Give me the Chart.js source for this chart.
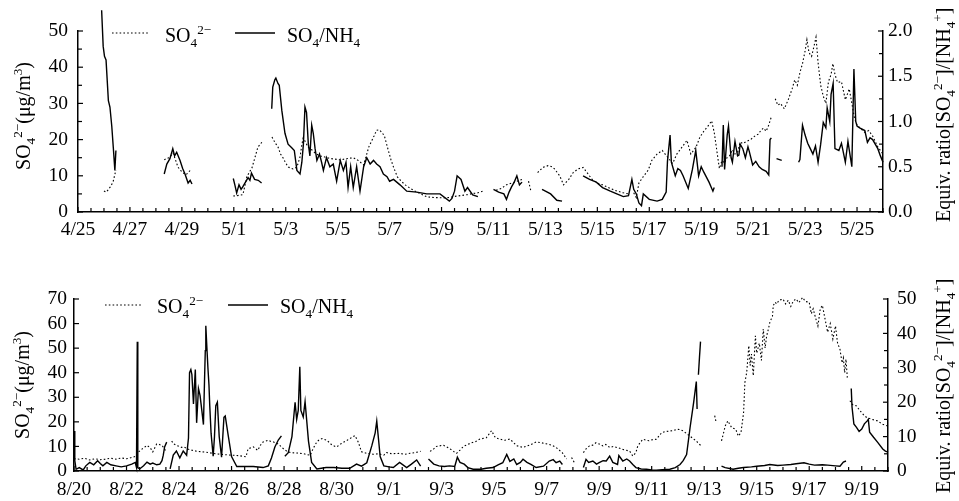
<!DOCTYPE html>
<html>
<head>
<meta charset="utf-8">
<title>SO4 and SO4/NH4 ratio</title>
<script src="https://cdn.jsdelivr.net/npm/chart.js@4.4.1/dist/chart.umd.min.js"></script>
<style>
  html, body { margin: 0; padding: 0; background: #fff; }
  #wrap { position: relative; width: 959px; height: 501px; }
  #wrap canvas { position: absolute; left: 0; }
</style>
</head>
<body>
<div id="wrap">
  <canvas id="springChart" width="959" height="240" style="top:0"></canvas>
  <canvas id="autumnChart" width="959" height="261" style="top:240px"></canvas>
</div>
<script>
// X VALUES ARE DAYS SINCE THE FIRST DATE OF EACH PANEL, null BREAKS THE LINE
var springDateLabels = ['4/25', '4/27', '4/29', '5/1', '5/3', '5/5', '5/7', '5/9', '5/11', '5/13', '5/15', '5/17', '5/19', '5/21', '5/23', '5/25'];
var autumnDateLabels = ['8/20', '8/22', '8/24', '8/26', '8/28', '8/30', '9/1', '9/3', '9/5', '9/7', '9/9', '9/11', '9/13', '9/15', '9/17', '9/19'];

// SPRING: SO4 (ug/m3)
var springSO4 = [
  [1.0, 5.8], [1.08, 5.5], [1.16, 6.1], [1.25, 7.0], [1.35, 8.3], [1.46, 11.6], [1.5, null],
  [3.32, 14.4], [3.42, 14.8], [3.5, 15.0], [3.58, 15.6], [3.66, 16.3], [3.75, 14.5], [3.85, 12.4], [3.95, 11.5], [4.05, 10.8], [4.15, 10.3], [4.24, 10.8], [4.33, 11.6], [4.4, null],
  [5.98, 4.4], [6.1, 4.5], [6.2, 4.6], [6.35, 4.8], [6.45, 8.0], [6.5, 9.7], [6.6, 11.0], [6.7, 12.2], [6.82, 15.2], [6.93, 18.0], [7.0, 18.5], [7.08, 19.3], [7.2, null],
  [7.47, 20.7], [7.6, 19.0], [7.7, 18.0], [7.8, 16.0], [7.9, 14.9], [8.0, 13.5], [8.1, 12.4], [8.28, 11.9], [8.43, 12.4], [8.55, 15.2], [8.62, 18.5], [8.67, 20.4], [8.75, 19.5], [8.85, 18.0], [9.0, 17.2], [9.13, 16.3], [9.3, 15.5], [9.5, 15.2], [9.7, 14.8], [9.9, 14.6], [10.1, 14.4], [10.4, 14.8], [10.6, 15.0], [10.8, 14.2], [11.0, 13.0], [11.1, 15.5], [11.2, 18.0], [11.3, 19.5], [11.4, 21.0], [11.5, 22.6], [11.6, 22.7], [11.7, 22.0], [11.8, 21.0], [11.95, 17.0], [12.05, 14.5], [12.15, 12.4], [12.3, 9.7], [12.45, 8.5], [12.6, 7.5], [12.8, 6.5], [12.97, 5.8], [13.2, 5.0], [13.43, 4.2], [13.7, 4.0], [14.07, 3.9], [14.3, 4.0], [14.5, 4.3], [14.8, 4.6], [15.0, 4.8], [15.2, 5.1], [15.4, 5.3], [15.6, 5.8], [15.7, null],
  [16.1, 6.0], [16.3, 6.5], [16.5, 7.5], [16.7, 8.0], [16.9, 8.5], [17.1, 9.0], [17.2, null],
  [17.35, 8.5], [17.45, 5.5], [17.55, null],
  [17.7, 10.9], [17.9, 12.3], [18.1, 12.8], [18.25, 12.5], [18.35, 11.9], [18.55, 10.0], [18.7, 7.5], [18.9, 9.0], [19.07, 10.9], [19.26, 11.9], [19.45, 12.3], [19.6, 10.9], [19.8, 9.0], [20.0, 8.0], [20.2, 7.5], [20.5, 6.5], [20.75, 5.8], [21.0, 5.3], [21.2, 5.0], [21.3, null],
  [21.4, 5.3], [21.5, 4.0], [21.6, 8.0], [21.77, 9.8], [21.96, 11.6], [22.1, 14.3], [22.3, 16.0], [22.5, 17.0], [22.7, 15.2], [22.9, 13.4], [23.06, 16.0], [23.26, 17.9], [23.45, 19.8], [23.6, 16.0], [23.8, 17.9], [23.95, 20.7], [24.1, 22.3], [24.3, 24.1], [24.4, 25.2], [24.5, 22.0], [24.6, 17.0], [24.7, 12.0], [24.8, 14.2], [24.9, 13.5], [25.0, 15.1], [25.1, 15.6], [25.2, 17.2], [25.3, 16.0], [25.4, 16.5], [25.5, 19.3], [25.6, 18.9], [25.75, 19.5], [25.9, 20.0], [26.0, 20.6], [26.1, 21.2], [26.2, 21.5], [26.3, 22.6], [26.4, 23.2], [26.5, 22.3], [26.6, 24.0], [26.7, 26.3], [26.78, null],
  [26.85, 31.3], [26.95, 29.5], [27.05, 30.0], [27.2, 28.5], [27.35, 31.0], [27.5, 34.0], [27.6, 36.5], [27.7, 35.0], [27.8, 38.5], [27.9, 41.0], [28.0, 44.5], [28.07, 47.6], [28.15, 44.0], [28.25, 43.0], [28.35, 46.0], [28.42, 48.3], [28.5, 41.3], [28.6, 35.0], [28.7, 32.0], [28.8, 30.0], [28.9, 36.0], [29.0, 38.0], [29.07, 41.0], [29.15, 38.0], [29.25, 35.8], [29.4, 36.0], [29.55, 31.0], [29.7, 34.0], [29.8, 30.0], [29.9, 26.0], [30.0, 24.0], [30.15, 23.0], [30.3, 22.0], [30.45, 22.5], [30.6, 21.0], [30.8, 18.0], [31.0, 16.0]
];

// SPRING: EQUIV. RATIO SO4/NH4
var springRatio = [
  [0.91, 2.23], [0.97, 1.83], [1.02, 1.72], [1.08, 1.68], [1.17, 1.23], [1.23, 1.16], [1.3, 0.95], [1.36, 0.71], [1.42, 0.46], [1.46, 0.68], [1.5, null],
  [3.32, 0.42], [3.42, 0.53], [3.54, 0.59], [3.65, 0.70], [3.72, 0.62], [3.8, 0.66], [3.93, 0.57], [4.03, 0.48], [4.12, 0.42], [4.24, 0.32], [4.32, 0.35], [4.39, 0.31], [4.45, null],
  [5.98, 0.37], [6.04, 0.30], [6.11, 0.21], [6.2, 0.30], [6.28, 0.25], [6.35, 0.28], [6.45, 0.33], [6.55, 0.38], [6.62, 0.35], [6.68, 0.43], [6.8, 0.36], [6.94, 0.35], [7.07, 0.32], [7.2, null],
  [7.46, 1.14], [7.5, 1.38], [7.58, 1.46], [7.62, 1.48], [7.7, 1.42], [7.75, 1.40], [7.85, 1.12], [7.97, 0.87], [8.09, 0.75], [8.23, 0.71], [8.33, 0.68], [8.43, 0.46], [8.55, 0.42], [8.62, 0.55], [8.68, 0.75], [8.74, 1.16], [8.8, 1.10], [8.87, 0.75], [8.93, 0.62], [9.0, 0.96], [9.06, 0.87], [9.13, 0.70], [9.2, 0.57], [9.3, 0.64], [9.38, 0.55], [9.45, 0.46], [9.57, 0.60], [9.7, 0.50], [9.83, 0.53], [9.96, 0.34], [10.1, 0.57], [10.22, 0.46], [10.32, 0.55], [10.4, 0.27], [10.5, 0.50], [10.6, 0.27], [10.73, 0.50], [10.86, 0.23], [11.0, 0.50], [11.12, 0.60], [11.25, 0.53], [11.38, 0.57], [11.5, 0.53], [11.63, 0.50], [11.76, 0.42], [11.9, 0.39], [12.0, 0.34], [12.15, 0.36], [12.4, 0.30], [12.66, 0.23], [13.04, 0.22], [13.43, 0.20], [13.94, 0.20], [14.3, 0.12], [14.4, 0.15], [14.5, 0.23], [14.6, 0.40], [14.75, 0.36], [14.9, 0.23], [15.0, 0.27], [15.2, 0.19], [15.4, 0.17], [15.5, null],
  [16.0, 0.25], [16.2, 0.22], [16.4, 0.20], [16.5, 0.14], [16.6, 0.22], [16.7, 0.28], [16.8, 0.33], [16.9, 0.40], [17.0, 0.30], [17.1, 0.33], [17.2, null],
  [17.87, 0.25], [18.0, 0.23], [18.2, 0.20], [18.44, 0.13], [18.64, 0.12], [18.7, null],
  [19.45, 0.40], [19.7, 0.36], [19.96, 0.33], [20.2, 0.27], [20.5, 0.23], [20.75, 0.20], [21.0, 0.17], [21.2, 0.18], [21.33, 0.36], [21.4, 0.25], [21.5, 0.20], [21.6, 0.10], [21.7, 0.07], [21.77, 0.20], [22.0, 0.14], [22.3, 0.12], [22.5, 0.14], [22.65, 0.22], [22.7, 0.56], [22.8, 0.85], [22.85, 0.55], [23.0, 0.40], [23.1, 0.48], [23.2, 0.46], [23.3, 0.40], [23.5, 0.26], [23.66, 0.47], [23.79, 0.68], [23.9, 0.40], [24.0, 0.50], [24.1, 0.44], [24.3, 0.33], [24.45, 0.23], [24.5, 0.27], [24.6, null],
  [24.8, 0.50], [24.85, 0.96], [24.9, 0.47], [25.0, 0.85], [25.05, 0.95], [25.15, 0.60], [25.2, 0.55], [25.3, 0.78], [25.4, 0.62], [25.45, 0.63], [25.5, 0.75], [25.6, 0.70], [25.7, 0.60], [25.8, 0.72], [25.85, 0.67], [25.98, 0.52], [26.1, 0.56], [26.23, 0.50], [26.35, 0.47], [26.5, 0.45], [26.6, 0.41], [26.65, 0.80], [26.7, 0.82], [26.8, null],
  [26.9, 0.59], [27.1, 0.57], [27.2, null],
  [27.75, 0.55], [27.8, 0.58], [27.9, 0.96], [28.0, 0.85], [28.1, 0.76], [28.2, 0.70], [28.3, 0.64], [28.4, 0.73], [28.5, 0.55], [28.6, 0.75], [28.7, 0.99], [28.8, 0.93], [28.85, 1.15], [28.95, 1.0], [29.0, 1.30], [29.08, 1.42], [29.15, 0.70], [29.3, 0.68], [29.4, 0.76], [29.55, 0.55], [29.65, 0.78], [29.8, 0.50], [29.88, 1.58], [29.95, 1.0], [30.0, 0.95], [30.1, 0.93], [30.3, 0.90], [30.4, 0.77], [30.5, 0.82], [30.6, 0.80], [30.8, 0.70], [30.9, 0.62], [31.0, 0.55]
];

// AUTUMN: SO4 (ug/m3)
var autumnSO4 = [
  [0.0, 5.0], [0.2, 4.8], [0.4, 5.2], [0.6, 4.5], [0.8, 5.0], [1.0, 4.6], [1.2, 4.8], [1.4, 5.2], [1.6, 4.8], [1.8, 5.3], [2.0, 5.0], [2.2, 5.5], [2.35, 6.0], [2.45, 7.7], [2.6, 9.0], [2.78, 10.4], [2.9, 9.5], [3.0, 7.8], [3.15, 11.0], [3.25, 10.8], [3.35, 10.4], [3.45, 9.0], [3.5, 8.0], [3.6, null],
  [3.72, 12.2], [3.8, 11.0], [3.9, 10.4], [4.0, 10.0], [4.1, 9.6], [4.2, 9.8], [4.3, 9.0], [4.48, 8.5], [4.7, 8.0], [5.0, 7.7], [5.4, 7.0], [5.8, 6.6], [6.07, 6.4], [6.3, 6.2], [6.55, 5.8], [6.63, 9.0], [6.75, 9.5], [6.83, 9.8], [7.0, 8.4], [7.1, 10.5], [7.2, 11.8], [7.4, 12.5], [7.5, 12.0], [7.6, 11.8], [7.78, 11.0], [7.9, 9.8], [8.0, 8.8], [8.1, 8.1], [8.25, 7.5], [8.5, 7.3], [8.75, 7.0], [9.0, 6.4], [9.1, 9.0], [9.25, 11.9], [9.35, 12.8], [9.45, 13.2], [9.63, 12.5], [9.83, 10.5], [10.0, 9.8], [10.2, 11.3], [10.4, 12.5], [10.6, 13.8], [10.7, 14.4], [10.83, 11.7], [10.95, 7.8], [11.15, 7.2], [11.4, 6.8], [11.6, 7.0], [11.8, 6.5], [11.9, 7.5], [12.1, 7.0], [12.4, 7.2], [12.6, 6.8], [12.8, 7.2], [13.0, 7.5], [13.2, 8.0], [13.35, null],
  [13.56, 8.0], [13.7, 9.0], [13.8, 10.0], [14.07, 10.5], [14.3, 9.2], [14.45, 8.0], [14.57, 7.2], [14.7, 8.5], [14.83, 10.0], [15.1, 11.3], [15.3, 12.0], [15.46, 13.0], [15.7, 13.5], [15.9, 16.4], [16.05, 13.5], [16.22, 13.0], [16.4, 12.5], [16.6, 13.0], [16.86, 10.3], [17.1, 9.6], [17.35, 10.5], [17.6, 11.8], [17.8, 11.5], [17.98, 11.1], [18.2, 10.5], [18.36, 9.6], [18.6, 7.4], [18.76, 4.9], [18.85, null],
  [18.95, 5.5], [19.05, 3.5], [19.1, null],
  [19.4, 7.5], [19.5, 9.0], [19.63, 10.2], [19.75, 10.5], [19.88, 11.5], [20.0, 11.0], [20.14, 10.2], [20.25, 10.8], [20.4, 9.6], [20.55, 10.0], [20.7, 9.5], [20.9, 8.8], [21.16, 8.1], [21.28, 6.1], [21.4, 7.5], [21.47, 10.2], [21.66, 12.9], [21.9, 12.3], [22.05, 12.8], [22.18, 12.9], [22.38, 15.6], [22.5, 16.0], [22.7, 16.3], [22.85, 16.5], [22.95, 17.0], [23.1, 16.8], [23.2, 16.3], [23.33, 15.2], [23.46, 14.2], [23.6, 13.0], [23.7, 12.2], [23.8, 11.0], [23.9, 10.2], [24.0, null],
  [24.4, 22.5], [24.45, 20.0], [24.5, null],
  [24.66, 12.3], [24.75, 16.0], [24.8, 18.3], [24.9, 20.4], [25.0, 18.5], [25.05, 17.6], [25.2, 17.0], [25.3, 14.2], [25.4, 15.6], [25.5, 23.8], [25.55, 36.0], [25.62, 40.2], [25.7, 51.0], [25.75, 42.9], [25.8, 47.6], [25.87, 38.8], [25.95, 55.0], [26.0, 48.0], [26.1, 52.0], [26.18, 45.0], [26.25, 57.8], [26.32, 50.0], [26.38, 55.0], [26.45, 58.0], [26.5, 60.5], [26.6, 63.0], [26.63, 67.3], [26.7, 68.7], [26.76, 68.0], [26.85, 69.5], [27.0, 70.0], [27.1, 68.0], [27.2, 69.5], [27.3, 67.0], [27.4, 69.3], [27.5, 70.0], [27.6, 68.5], [27.75, 70.6], [27.85, 69.0], [28.0, 68.7], [28.08, 64.0], [28.15, 66.0], [28.25, 62.0], [28.33, 59.0], [28.42, 66.0], [28.5, 67.4], [28.6, 62.0], [28.7, 56.5], [28.8, 60.0], [28.9, 53.7], [29.0, 59.0], [29.08, 52.0], [29.17, 49.6], [29.25, 44.0], [29.3, 46.0], [29.35, 40.0], [29.4, 45.5], [29.45, 38.0], [29.5, null],
  [29.55, 28.6], [29.65, 27.0], [29.8, 26.5], [29.9, 25.0], [30.0, 23.7], [30.1, 22.5], [30.2, 21.7], [30.4, 21.0], [30.6, 20.4], [30.8, 19.0], [31.0, 18.3]
];

// AUTUMN: EQUIV. RATIO SO4/NH4
var autumnRatio = [
  [0.0, 11.6], [0.03, 3.0], [0.08, 0.5], [0.2, 1.0], [0.35, 0.3], [0.45, 1.5], [0.6, 2.5], [0.75, 1.8], [0.9, 3.0], [1.0, 2.2], [1.1, 1.5], [1.25, 2.5], [1.4, 1.8], [1.6, 1.5], [1.8, 1.2], [2.0, 1.5], [2.2, 2.0], [2.33, 2.5], [2.38, 1.0], [2.41, 37.6], [2.43, 1.0], [2.5, 0.6], [2.65, 1.5], [2.78, 2.6], [2.9, 2.0], [3.0, 2.3], [3.15, 1.8], [3.27, 2.0], [3.35, 3.0], [3.4, 4.6], [3.45, 7.0], [3.53, 8.4], [3.6, null],
  [3.66, 0.6], [3.78, 4.6], [3.9, 5.8], [4.03, 3.8], [4.16, 5.8], [4.29, 4.6], [4.36, 9.6], [4.4, 28.6], [4.45, 29.5], [4.49, 28.0], [4.55, 19.5], [4.62, 29.5], [4.67, 14.0], [4.74, 24.0], [4.8, 22.0], [4.87, 17.5], [4.93, 13.5], [4.97, 26.0], [5.0, 35.0], [5.02, 42.2], [5.06, 36.0], [5.1, 30.0], [5.14, 25.0], [5.17, 19.0], [5.22, 11.0], [5.3, 4.3], [5.35, 10.0], [5.4, 19.0], [5.46, 20.0], [5.53, 10.0], [5.62, 4.0], [5.71, 15.6], [5.76, 16.0], [5.82, 13.0], [5.88, 10.0], [6.0, 4.2], [6.2, 1.3], [6.45, 1.3], [6.83, 1.3], [7.2, 1.0], [7.4, 1.5], [7.52, 3.8], [7.65, 7.0], [7.78, 9.0], [7.9, 10.2], [7.96, null],
  [8.03, 4.3], [8.16, 5.3], [8.3, 10.0], [8.42, 20.0], [8.48, 15.0], [8.54, 17.6], [8.6, 30.3], [8.64, 17.6], [8.73, 15.7], [8.8, 20.2], [8.93, 8.7], [9.05, 2.5], [9.25, 0.6], [9.6, 1.0], [9.9, 1.0], [10.2, 0.8], [10.5, 0.8], [10.76, 2.0], [10.95, 1.4], [11.15, 2.4], [11.34, 7.3], [11.47, 11.1], [11.53, 14.5], [11.6, 9.0], [11.66, 4.2], [11.8, 1.5], [12.0, 1.2], [12.16, 1.0], [12.4, 2.5], [12.67, 1.0], [12.85, 2.0], [13.05, 3.2], [13.2, 1.4], [13.35, null],
  [13.5, 3.5], [13.7, 2.0], [13.9, 1.5], [14.1, 1.3], [14.3, 1.5], [14.5, 1.3], [14.6, 4.0], [14.7, 2.5], [14.86, 2.0], [15.0, 1.0], [15.2, 0.5], [15.5, 0.5], [15.7, 0.8], [15.96, 1.0], [16.15, 1.8], [16.33, 2.4], [16.48, 4.8], [16.6, 2.8], [16.75, 3.5], [16.86, 1.9], [17.0, 2.5], [17.1, 3.4], [17.25, 2.5], [17.4, 1.9], [17.6, 1.0], [17.88, 1.4], [18.1, 2.9], [18.25, 3.3], [18.36, 2.4], [18.5, 2.9], [18.6, 1.9], [18.7, null],
  [19.4, 1.0], [19.5, 3.4], [19.6, 2.5], [19.76, 2.9], [19.9, 2.0], [20.0, 2.4], [20.15, 3.0], [20.27, 2.9], [20.4, 4.3], [20.52, 2.5], [20.7, 1.9], [20.75, 4.5], [20.9, 2.9], [21.05, 3.5], [21.16, 2.9], [21.28, 1.9], [21.4, 1.0], [21.6, 0.6], [21.8, 0.5], [22.0, 0.3], [22.18, 0.2], [22.4, 0.4], [22.69, 0.5], [22.9, 1.0], [23.08, 1.9], [23.2, 3.0], [23.33, 4.8], [23.46, 12.5], [23.6, 20.0], [23.7, 26.0], [23.73, 18.0], [23.75, null],
  [23.78, 28.0], [23.82, 33.0], [23.86, 37.6], [23.9, null],
  [24.66, 1.4], [24.8, 1.0], [25.1, 0.5], [25.3, 0.8], [25.5, 1.0], [25.8, 1.2], [26.0, 1.4], [26.3, 1.6], [26.5, 1.9], [26.8, 1.6], [27.0, 1.7], [27.3, 1.9], [27.5, 2.1], [27.8, 2.4], [28.0, 2.0], [28.2, 1.7], [28.5, 1.8], [28.7, 1.7], [29.0, 1.5], [29.17, 1.4], [29.3, 2.6], [29.4, 2.9], [29.5, null],
  [29.6, 24.0], [29.63, 18.6], [29.7, 13.7], [29.8, 12.7], [29.9, 11.5], [30.0, 12.2], [30.1, 13.7], [30.2, 14.5], [30.25, 15.0], [30.3, 11.3], [30.45, 9.8], [30.6, 8.4], [30.8, 6.4], [30.9, 5.8], [31.0, 5.5]
];

// TEXT PIECES: [text, 'sub' | 'sup' | undefined]
var so4Text = [['SO'], ['4', 'sub'], ['2\u2212', 'sup']];
var ratioLegendText = [['SO'], ['4', 'sub'], ['/NH'], ['4', 'sub']];
var leftTitleText = [['SO'], ['4', 'sub'], ['2\u2212', 'sup'], ['(\u03bcg/m'], ['3', 'sup'], [')']];
var rightTitleText = [['Equiv. ratio[SO'], ['4', 'sub'], ['2\u2212', 'sup'], [']/[NH'], ['4', 'sub'], ['+', 'sup'], [']']];

var FONT = '"Liberation Serif", "Times New Roman", serif';
Chart.defaults.font.family = FONT;
Chart.defaults.font.size = 19.5;
Chart.defaults.color = '#000';

function toPoints(pairs) {
  return pairs.map(function (p) { return { x: p[0], y: p[1] }; });
}

function isStep(v, every) {
  var q = v / every;
  return Math.abs(q - Math.round(q)) < 1e-6;
}

// RICH TEXT WITH SUB / SUPERSCRIPTS
function drawRich(ctx, segs, x, y, size, align) {
  var parts = segs.map(function (s) {
    var fs = s[1] ? size * 0.66 : size;
    ctx.font = fs + 'px ' + FONT;
    return { t: s[0], k: s[1], fs: fs, w: ctx.measureText(s[0]).width };
  });
  var total = parts.reduce(function (a, p) { return a + p.w; }, 0);
  var cx = align === 'center' ? x - total / 2 : x;
  ctx.textAlign = 'left';
  ctx.textBaseline = 'alphabetic';
  ctx.fillStyle = '#000';
  parts.forEach(function (p) {
    ctx.font = p.fs + 'px ' + FONT;
    var dy = p.k === 'sub' ? size * 0.27 : (p.k === 'sup' ? -size * 0.4 : 0);
    ctx.fillText(p.t, cx, y + dy);
    cx += p.w;
  });
}

// TICK MARKS POINTING INTO THE PLOT
var inwardTicks = {
  id: 'inwardTicks',
  afterDraw: function (chart) {
    var ctx = chart.ctx, area = chart.chartArea;
    ctx.save();
    ctx.strokeStyle = '#000';
    ctx.lineWidth = 1.2;
    Object.keys(chart.scales).forEach(function (id) {
      var scale = chart.scales[id];
      scale.ticks.forEach(function (t) {
        var p = scale.getPixelForValue(t.value);
        var len = t.label !== '' ? 5 : 4;
        ctx.beginPath();
        if (scale.axis === 'x') {
          ctx.moveTo(p, area.bottom); ctx.lineTo(p, area.bottom - len);
        } else if (scale.position === 'left') {
          ctx.moveTo(area.left, p); ctx.lineTo(area.left + len, p);
        } else {
          ctx.moveTo(area.right, p); ctx.lineTo(area.right - len, p);
        }
        ctx.stroke();
      });
    });
    ctx.restore();
  }
};

// LEGEND AND AXIS TITLES
function makeTextPlugin(cfg) {
  return {
    id: 'panelText',
    afterDraw: function (chart) {
      var ctx = chart.ctx;
      ctx.save();
      // LEGEND LINE SAMPLES
      ctx.strokeStyle = '#000';
      ctx.lineWidth = 1.2;
      ctx.setLineDash([1.6, 2.2]);
      ctx.beginPath();
      ctx.moveTo(cfg.legend.dot[0], cfg.legend.y); ctx.lineTo(cfg.legend.dot[1], cfg.legend.y);
      ctx.stroke();
      ctx.setLineDash([]);
      ctx.lineWidth = 1.5;
      ctx.beginPath();
      ctx.moveTo(cfg.legend.solid[0], cfg.legend.y); ctx.lineTo(cfg.legend.solid[1], cfg.legend.y);
      ctx.stroke();
      drawRich(ctx, so4Text, cfg.legend.text1, cfg.legend.base, 20, 'left');
      drawRich(ctx, ratioLegendText, cfg.legend.text2, cfg.legend.base, 20, 'left');
      // LEFT TITLE
      ctx.save();
      ctx.translate(cfg.left.x, cfg.left.y);
      ctx.rotate(-Math.PI / 2);
      drawRich(ctx, leftTitleText, 0, 0, 20, 'center');
      ctx.restore();
      // RIGHT TITLE, READS BOTTOM TO TOP
      ctx.save();
      ctx.translate(cfg.right.x, cfg.right.y);
      ctx.rotate(-Math.PI / 2);
      drawRich(ctx, rightTitleText, 0, 0, 20, 'left');
      ctx.restore();
      ctx.restore();
    }
  };
}

function buildPanel(canvasId, p) {
  var canvas = document.getElementById(canvasId);
  var W = canvas.width, H = canvas.height;
  return new Chart(canvas, {
    type: 'line',
    data: {
      datasets: [
        {
          label: 'SO4',
          data: toPoints(p.so4),
          yAxisID: 'yL',
          borderColor: '#000',
          borderWidth: 1.1,
          borderDash: [1.6, 2.2],
          pointRadius: 0,
          tension: 0,
          spanGaps: false,
          clip: false
        },
        {
          label: 'SO4/NH4',
          data: toPoints(p.ratio),
          yAxisID: 'yR',
          borderColor: '#000',
          borderWidth: 1.4,
          pointRadius: 0,
          tension: 0,
          spanGaps: false,
          clip: false
        }
      ]
    },
    options: {
      responsive: false,
      animation: false,
      devicePixelRatio: 1,
      events: [],
      layout: { padding: { top: p.area.top, left: 0, right: 0, bottom: 0 } },
      plugins: { legend: { display: false }, tooltip: { enabled: false } },
      scales: {
        x: {
          type: 'linear',
          min: 0,
          max: 31,
          afterFit: function (s) { s.height = H - p.area.bottom; },
          grid: { drawOnChartArea: false, drawTicks: false },
          border: { color: '#000', width: 1.5 },
          ticks: {
            stepSize: 0.5,
            autoSkip: false,
            maxRotation: 0,
            padding: p.padX,
            callback: function (v) { return isStep(v, 2) ? p.dates[Math.round(v / 2)] : ''; }
          }
        },
        yL: {
          position: 'left',
          min: 0,
          max: p.leftMax,
          afterFit: function (s) { s.width = p.area.left; },
          grid: { drawOnChartArea: false, drawTicks: false },
          border: { color: '#000', width: 1.5 },
          ticks: {
            stepSize: p.leftStep,
            autoSkip: false,
            padding: p.padL,
            callback: function (v) { return isStep(v, p.leftEvery) ? String(v) : ''; }
          }
        },
        yR: {
          position: 'right',
          min: 0,
          max: p.rightMax,
          afterFit: function (s) { s.width = W - p.area.right; },
          grid: { drawOnChartArea: false, drawTicks: false },
          border: { color: '#000', width: 1.5 },
          ticks: {
            stepSize: p.rightStep,
            autoSkip: false,
            padding: p.padR,
            callback: function (v) { return isStep(v, p.rightEvery) ? v.toFixed(p.rightDecimals) : ''; }
          }
        }
      }
    },
    plugins: [inwardTicks, makeTextPlugin(p.text)]
  });
}

// UPPER PANEL: 4/25 - 5/26
buildPanel('springChart', {
  dates: springDateLabels,
  so4: springSO4,
  ratio: springRatio,
  area: { left: 78, right: 883, top: 31, bottom: 212 },
  leftMax: 50, leftStep: 5, leftEvery: 10,
  rightMax: 2, rightStep: 0.25, rightEvery: 0.5, rightDecimals: 1,
  padX: 6, padL: 10, padR: 5,
  text: {
    legend: { y: 33, base: 42, dot: [112, 150], solid: [235, 275], text1: 165, text2: 287 },
    left: { x: 30, y: 116 },
    right: { x: 950, y: 222 }
  }
});

// LOWER PANEL: 8/20 - 9/20
buildPanel('autumnChart', {
  dates: autumnDateLabels,
  so4: autumnSO4,
  ratio: autumnRatio,
  area: { left: 74, right: 888, top: 59, bottom: 231 },
  leftMax: 70, leftStep: 10, leftEvery: 10,
  rightMax: 50, rightStep: 5, rightEvery: 10, rightDecimals: 0,
  padX: 7, padL: 7, padR: 9,
  text: {
    legend: { y: 65, base: 72.5, dot: [105, 142], solid: [228, 268], text1: 157, text2: 280 },
    left: { x: 29, y: 145 },
    right: { x: 950, y: 253 }
  }
});
</script>
</body>
</html>
